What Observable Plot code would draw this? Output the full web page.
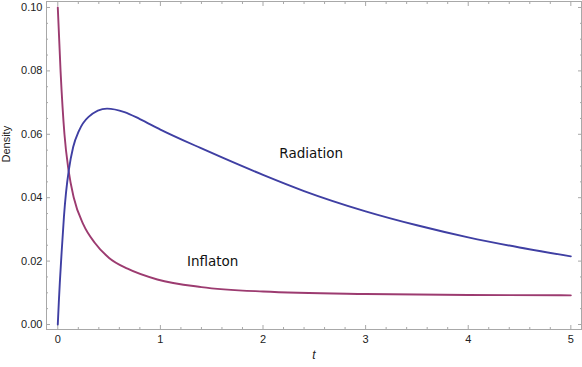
<!DOCTYPE html>
<html><head><meta charset="utf-8">
<script src="https://cdn.jsdelivr.net/npm/d3@7"></script>
<script src="https://cdn.jsdelivr.net/npm/@observablehq/plot@0.6"></script>
<style>body{margin:0;background:#fff} svg{display:block}</style>
</head><body><div id="chart"></div>
<script>
// Radiation density (blue)
const radiationT = [0, 0.01, 0.02, 0.035, 0.06, 0.08, 0.107, 0.15, 0.205, 0.3, 0.48, 0.65, 0.8, 1.0, 1.39, 1.6, 2.0, 2.4, 3.0, 3.5, 4.0, 4.5, 5.0];
const radiationV = [0, 0.007, 0.0133, 0.0215, 0.034, 0.0415, 0.0486, 0.056, 0.061, 0.0655, 0.0681, 0.0670, 0.0648, 0.0615, 0.0557, 0.0527, 0.0472, 0.0421, 0.0357, 0.0313, 0.0275, 0.0243, 0.0215];
// Inflaton density (purple)
const inflatonT = [0, 0.027, 0.065, 0.105, 0.156, 0.25, 0.36, 0.5, 0.68, 0.97, 1.4, 2.0, 3.0, 4.0, 5.0];
const inflatonV = [0.1, 0.08, 0.06, 0.0486, 0.040, 0.0315, 0.0258, 0.021, 0.0176, 0.0142, 0.0118, 0.0104, 0.0096, 0.0093, 0.0092];

const seriesNames = ["Radiation", "Inflaton"];
const seriesColors = ["#3f3fa3", "#9c3b70"];
const labelT = [2.47, 1.51];
const labelV = [0.0538, 0.0197];

const xTicks = [0, 1, 2, 3, 4, 5];
const xTickLabels = ["0", "1", "2", "3", "4", "5"];
const xMinorTicks = [0.2, 0.4, 0.6, 0.8, 1.2, 1.4, 1.6, 1.8, 2.2, 2.4, 2.6, 2.8, 3.2, 3.4, 3.6, 3.8, 4.2, 4.4, 4.6, 4.8];
const yTicks = [0, 0.02, 0.04, 0.06, 0.08, 0.10];
const yTickLabels = ["0.00", "0.02", "0.04", "0.06", "0.08", "0.10"];
const yMinorTicks = [0.005, 0.01, 0.015, 0.025, 0.03, 0.035, 0.045, 0.05, 0.055, 0.065, 0.07, 0.075, 0.085, 0.09, 0.095];

const xLabel = "t";
const yLabel = "Density";

const radiation = radiationT.map((t, i) => ({t, v: radiationV[i], s: seriesNames[0]}));
const inflaton = inflatonT.map((t, i) => ({t, v: inflatonV[i], s: seriesNames[1]}));
const labels = seriesNames.map((s, i) => ({s, t: labelT[i], v: labelV[i]}));

const frameColor = "#a8a8a8";
const textColor = "#222";
const tickFont = {fontFamily: "Liberation Sans, Arial, sans-serif", fontSize: 11};

const chart = Plot.plot({
  width: 582,
  height: 367,
  marginLeft: 46,
  marginRight: 1,
  marginTop: 1,
  marginBottom: 38,
  x: {domain: [-0.110, 5.104]},
  y: {domain: [-0.001577, 0.10189]},
  style: {background: "#fff", overflow: "visible"},
  marks: [
    Plot.frame({stroke: frameColor, strokeWidth: 1}),
    // bottom
    Plot.axisX(xTicks, {anchor: "bottom", tickSize: -4, tickPadding: 10, stroke: frameColor, color: textColor, ...tickFont, tickFormat: (d, i) => xTickLabels[i], label: null}),
    Plot.axisX(xMinorTicks, {anchor: "bottom", tickSize: -2, stroke: frameColor, tickFormat: () => "", label: null}),
    // top
    Plot.axisX(xTicks, {anchor: "top", tickSize: -4, stroke: frameColor, tickFormat: () => "", label: null}),
    Plot.axisX(xMinorTicks, {anchor: "top", tickSize: -2, stroke: frameColor, tickFormat: () => "", label: null}),
    // left
    Plot.axisY(yTicks, {anchor: "left", tickSize: -4, tickPadding: 8, stroke: frameColor, color: textColor, ...tickFont, tickFormat: (d, i) => yTickLabels[i], label: null}),
    Plot.axisY(yMinorTicks, {anchor: "left", tickSize: -2, stroke: frameColor, tickFormat: () => "", label: null}),
    // right
    Plot.axisY(yTicks, {anchor: "right", tickSize: -4, stroke: frameColor, tickFormat: () => "", label: null}),
    Plot.axisY(yMinorTicks, {anchor: "right", tickSize: -2, stroke: frameColor, tickFormat: () => "", label: null}),
    // axis titles
    Plot.text([xLabel], {frameAnchor: "bottom", dy: 29, text: d => d, fontStyle: "italic", fill: textColor, fontFamily: "Liberation Sans, Arial, sans-serif", fontSize: 12}),
    Plot.text([yLabel], {frameAnchor: "left", dx: -40, dy: -3, rotate: -90, text: d => d, fill: textColor, fontFamily: "Liberation Sans, Arial, sans-serif", fontSize: 11}),
    // curves
    Plot.line(inflaton, {x: "t", y: "v", stroke: seriesColors[1], strokeWidth: 1.9, curve: "monotone-x"}),
    Plot.line(radiation, {x: "t", y: "v", stroke: seriesColors[0], strokeWidth: 1.9, curve: "monotone-x"}),
    // series labels
    Plot.text(labels, {x: "t", y: "v", text: "s", fill: "#111", fontFamily: "DejaVu Sans, sans-serif", fontSize: 13.5})
  ]
});
document.getElementById("chart").appendChild(chart);
</script>
</body></html>
